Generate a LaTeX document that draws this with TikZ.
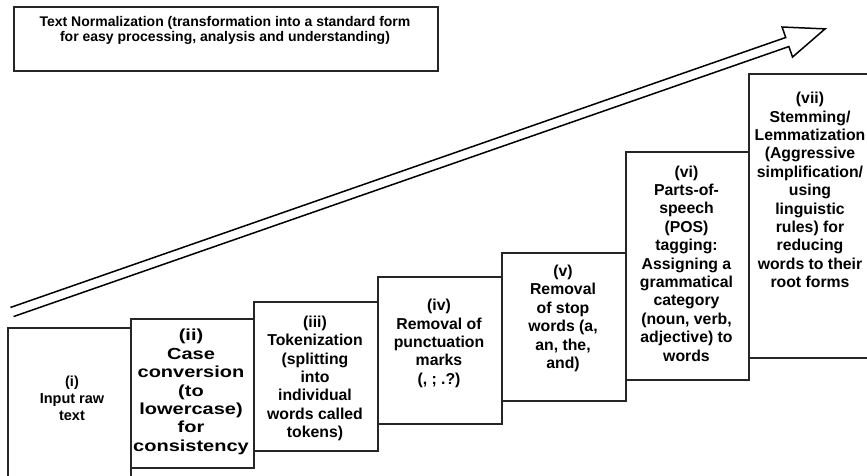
\documentclass[tikz,border=0pt]{standalone}
\usepackage{fontspec}
\setmainfont{Liberation Sans}
\newfontfamily\widesans[FakeStretch=1.25]{Liberation Sans}
\begin{document}
\begin{tikzpicture}[x=1pt,y=-1pt,
  stagebox/.style={draw=black!85, line width=1.8pt, fill=white, anchor=north west, inner sep=0pt},
  stagetext/.style={align=center, inner sep=0pt, font=\fontsize{15.8}{18.4}\selectfont\bfseries},
  titletext/.style={align=center, inner sep=0pt, font=\fontsize{14}{15.6}\selectfont\bfseries},
  progress/.style={draw=black, line width=1.5pt, line join=miter, fill=white}]
\useasboundingbox (0,0) rectangle (867,475);
\clip (0,0) rectangle (867,475);

% heading box
\node[stagebox, minimum width=424pt, minimum height=64pt] (head) at (13,6) {};
\node[titletext] (headtext) at (225,30.5) {Text Normalization (transformation into a standard form\\for easy processing, analysis and understanding)};

% rising arrow drawn along its own axis
\coordinate (tail) at (12,312);
\begin{scope}[shift={(tail)}, rotate=19.2]
  \draw[progress] (0,-4.8) -- (821,-4.8) -- (821,-15.9) -- (861,0) coordinate (tip)
    -- (821,15.9) -- (821,4.8) -- (0,4.8);
\end{scope}

% staircase of stages
\node[stagebox, minimum width=123pt, minimum height=163pt] (s1) at (7,327) {};
\node[stagebox, minimum width=123pt, minimum height=149pt] (s2) at (130,318) {};
\node[stagebox, minimum width=124pt, minimum height=149pt] (s3) at (253,301) {};
\node[stagebox, minimum width=124pt, minimum height=147pt] (s4) at (377,276) {};
\node[stagebox, minimum width=124pt, minimum height=148pt] (s5) at (501,252) {};
\node[stagebox, minimum width=123pt, minimum height=228pt] (s6) at (625,151) {};
\node[stagebox, minimum width=132pt, minimum height=284pt] (s7) at (748,73) {};

\node[stagetext, font=\fontsize{14.5}{17}\selectfont\bfseries] (t1) at (72,398) {(i)\\Input raw\\text};
\node[stagetext, font=\widesans\fontsize{16}{18.4}\selectfont\bfseries] (t2) at (191,392) {(ii)\\Case\\conversion\\(to\\lowercase)\\for\\consistency};
\node[stagetext] (t3) at (315,378.5) {(iii)\\Tokenization\\(splitting\\into\\individual\\words called\\tokens)};
\node[stagetext] (t4) at (439,343.5) {(iv)\\Removal of\\punctuation\\marks\\(, ; .?)};
\node[stagetext] (t5) at (563,318.5) {(v)\\Removal\\of stop\\words (a,\\an, the,\\and)};
\node[stagetext] (t6) at (686.5,263.5) {(vi)\\Parts-of-\\speech\\(POS)\\tagging:\\Assigning a\\grammatical\\category\\(noun, verb,\\adjective) to\\words};
\node[stagetext] (t7) at (810,190) {(vii)\\Stemming/\\Lemmatization\\(Aggressive\\simplification/\\using\\linguistic\\rules) for\\reducing\\words to their\\root forms};
\end{tikzpicture}
\end{document}
